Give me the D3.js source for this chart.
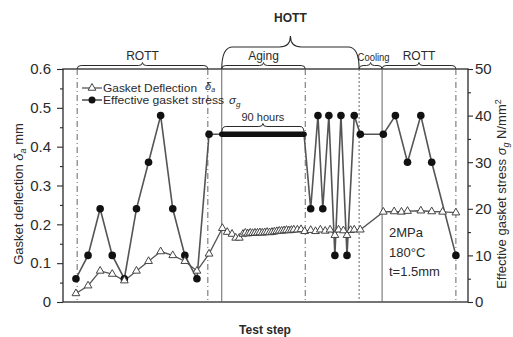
<!DOCTYPE html>
<html><head><meta charset="utf-8">
<script src="https://cdn.jsdelivr.net/npm/d3@7"></script>
<style>body{margin:0;background:#fff}svg{display:block;font-family:"Liberation Sans",Arial,sans-serif}</style>
</head><body><svg id="c" width="513" height="337"></svg>
<script>
// ---- data ----
const stressSteps = [0,1,2,3,4,5,6,7,8,9,10,11];
const stressValues = [5,10,20,10,5,20,30,40,20,10,5,36];
const agingSteps = [12.05,12.3,12.55,12.8,13.05,13.3,13.55,13.8,14.05,14.3,14.55,14.8,15.05,15.3,15.55,15.8,16.05,16.3,16.55,16.8,17.05,17.3,17.55,17.8,18.05,18.3,18.55,18.85];
const agingStress = [36,36,36,36,36,36,36,36,36,36,36,36,36,36,36,36,36,36,36,36,36,36,36,36,36,36,36,36];
const stress2Steps = [19.4,20.0,20.4,20.9,21.4,21.9,22.4,23.0,23.5,25.4,26.4,27.4,28.5,29.4,31.4];
const stress2Values = [20,40,20,40,10,40,10,40,36,36,40,30,40,30,10];
const deflSteps = [0,1,2,3,4,5,6,7,8,9,10,11,
  12.1,12.5,12.9,13.2,13.5,13.8,14.0,14.2,14.4,14.6,14.8,15.0,15.2,15.4,15.6,15.8,16.0,16.2,16.4,16.6,16.8,17.0,17.2,17.4,17.6,17.8,18.0,18.3,18.6,18.9,
  19.4,19.8,20.2,20.6,21.0,21.4,21.7,22.1,22.4,22.7,23.0,23.5,
  25.4,26.3,26.9,27.4,28.5,29.4,30.3,31.4];
const deflValues = [0.022,0.042,0.08,0.072,0.055,0.08,0.105,0.13,0.12,0.105,0.08,0.124,
  0.19,0.18,0.175,0.165,0.165,0.175,0.178,0.176,0.178,0.177,0.178,0.178,0.179,0.178,0.179,0.18,0.179,0.18,0.181,0.182,0.183,0.183,0.184,0.185,0.184,0.185,0.186,0.186,0.187,0.182,
  0.185,0.182,0.186,0.183,0.186,0.172,0.186,0.184,0.172,0.185,0.186,0.186,
  0.232,0.233,0.232,0.234,0.235,0.233,0.232,0.23];
const leftTicks = [0,0.1,0.2,0.3,0.4,0.5,0.6];
const rightTicks = [0,10,20,30,40,50];
const phaseLines = [0.1,10.9,12.05,18.95,23.4,25.3,31.4];
const phaseDash = ["6,3,1,3","6,3,1,3",null,"6,3,1,3","2,2",null,"6,3,1,3"];
const braces = [
  {label:"ROTT", from:0.1, to:10.9, level:"low"},
  {label:"Aging", from:12.05, to:18.95, level:"low"},
  {label:"Cooling", from:23.4, to:25.3, level:"low"},
  {label:"ROTT", from:25.3, to:31.4, level:"low"},
  {label:"HOTT", from:12.05, to:23.4, level:"high"}
];

// ---- scales ----
const svg = d3.select("#c");
const x = d3.scaleLinear().domain([-1.07, 32.4]).range([63, 468]);
const yL = d3.scaleLinear().domain([0, 0.6]).range([302, 69]);
const yR = d3.scaleLinear().domain([0, 50]).range([302, 69]);
const ink = "#2a2a2a", lineC = "#555";

// axes
const gL = svg.append("g").attr("transform","translate(63,0)")
  .call(d3.axisLeft(yL).tickValues(leftTicks).tickSize(6).tickPadding(6).tickFormat(d=>d===0?"0":d3.format(".1f")(d)));
const gLm = svg.append("g").attr("transform","translate(63,0)")
  .call(d3.axisLeft(yL).tickValues([0.05,0.15,0.25,0.35,0.45,0.55]).tickSize(3).tickFormat(""));
const gR = svg.append("g").attr("transform","translate(468,0)")
  .call(d3.axisRight(yR).tickValues(rightTicks).tickSize(5).tickPadding(2));
const gRm = svg.append("g").attr("transform","translate(468,0)")
  .call(d3.axisRight(yR).tickValues([5,15,25,35,45]).tickSize(3).tickFormat(""));
[gL,gLm,gR,gRm].forEach(g=>{
  g.selectAll("path").attr("stroke",ink).attr("stroke-width",1.3);
  g.selectAll("line").attr("stroke",ink).attr("stroke-width",1.1);
  g.selectAll("text").attr("fill",ink).style("font-size","15px");
});
gL.select("path").remove(); gLm.select("path").remove(); gR.select("path").remove(); gRm.select("path").remove();
// frame
svg.append("rect").attr("x",63).attr("y",69).attr("width",405).attr("height",233)
  .attr("fill","none").attr("stroke",ink).attr("stroke-width",1.3);

// phase lines
svg.append("g").selectAll("line").data(phaseLines).join("line")
  .attr("x1",d=>x(d)).attr("x2",d=>x(d)).attr("y1",69).attr("y2",302)
  .attr("stroke","#666").attr("stroke-width",1)
  .attr("stroke-dasharray",(d,i)=>phaseDash[i]);

// braces
function bracePath(x1,x2,yBase,yTop,yTip,r){
  const xm=(x1+x2)/2;
  return `M${x1},${yBase} Q${x1},${yTop} ${x1+r},${yTop} L${xm-r},${yTop} Q${xm},${yTop} ${xm},${yTip} Q${xm},${yTop} ${xm+r},${yTop} L${x2-r},${yTop} Q${x2},${yTop} ${x2},${yBase}`;
}
braces.forEach(b=>{
  const x1=x(b.from), x2=x(b.to), xm=(x1+x2)/2;
  if(b.level==="low"){
    svg.append("path").attr("d",bracePath(x1,x2,69,65.5,62.5,4)).attr("fill","none").attr("stroke",ink).attr("stroke-width",1);
    const t = svg.append("text").attr("x",b.label==="Cooling"?xm+3:xm).attr("y",b.label==="Cooling"?61:60).attr("text-anchor","middle")
      .attr("fill",ink).style("font-size","12px").text(b.label);
    if(b.label==="Cooling") t.style("font-size","11.5px").attr("textLength",32).attr("lengthAdjust","spacingAndGlyphs");
  } else {
    svg.append("path").attr("d",bracePath(x1,x2,69,47,36,11)).attr("fill","none").attr("stroke",ink).attr("stroke-width",1.1);
    svg.append("text").attr("x",xm).attr("y",22).attr("text-anchor","middle")
      .attr("fill",ink).style("font-size","12px").style("font-weight","bold").text(b.label);
  }
});
// 90 hours brace
{
  const x1=x(agingSteps[0]), x2=x(agingSteps[agingSteps.length-1]);
  svg.append("path").attr("d",bracePath(x1,x2,133,126.5,123.5,4)).attr("fill","none").attr("stroke",ink).attr("stroke-width",1);
  svg.append("text").attr("x",(x1+x2)/2).attr("y",121).attr("text-anchor","middle").attr("fill",ink)
    .style("font-size","11px").text("90 hours");
}

// series: stress line
const allStressSteps = stressSteps.concat(agingSteps, stress2Steps);
const allStress = stressValues.concat(agingStress, stress2Values);
const stressPts = allStressSteps.map((s,i)=>[x(s), yR(allStress[i])]);
const line = d3.line();
svg.append("path").attr("d",line(stressPts)).attr("fill","none").attr("stroke",lineC).attr("stroke-width",1.6);
// deflection line
const deflPts = deflSteps.map((s,i)=>[x(s), yL(deflValues[i])]);
svg.append("path").attr("d",line(deflPts)).attr("fill","none").attr("stroke",lineC).attr("stroke-width",1.3);
// aging thick bar
svg.append("path").attr("d",line(agingSteps.map((s,i)=>[x(s),yR(agingStress[i])])))
  .attr("fill","none").attr("stroke","#111").attr("stroke-width",5.5).attr("stroke-linecap","round");
// stress markers
svg.append("g").selectAll("circle").data(stressSteps.map((s,i)=>[s,stressValues[i]]).concat(stress2Steps.map((s,i)=>[s,stress2Values[i]])))
  .join("circle").attr("cx",d=>x(d[0])).attr("cy",d=>yR(d[1])).attr("r",3.8).attr("fill","#111");
// deflection markers
const tri = d3.symbol().type(d3.symbolTriangle).size(26);
svg.append("g").selectAll("path").data(deflSteps.map((s,i)=>[s,deflValues[i]]))
  .join("path").attr("d",tri).attr("transform",d=>`translate(${x(d[0])},${yL(d[1])})`)
  .attr("fill","#fff").attr("stroke","#444").attr("stroke-width",1);

// legend
const lg = svg.append("g").attr("fill",ink).style("font-size","11.5px");
lg.append("line").attr("x1",82).attr("x2",102).attr("y1",88).attr("y2",88).attr("stroke",lineC).attr("stroke-width",1.3);
lg.append("path").attr("d",tri).attr("transform","translate(92,88)").attr("fill","#fff").attr("stroke","#444");
lg.append("text").attr("x",103).attr("y",92).attr("textLength",94).attr("lengthAdjust","spacingAndGlyphs").text("Gasket Deflection");
lg.append("text").attr("x",205).attr("y",90).style("font-style","italic").style("font-size","11px").html('δ<tspan dy="2" font-size="7">a</tspan>');
lg.append("line").attr("x1",82).attr("x2",102).attr("y1",100).attr("y2",100).attr("stroke",lineC).attr("stroke-width",1.6);
lg.append("circle").attr("cx",92).attr("cy",100).attr("r",3.5).attr("fill","#111");
lg.append("text").attr("x",103).attr("y",104).attr("textLength",121).attr("lengthAdjust","spacingAndGlyphs").text("Effective gasket stress");
lg.append("text").attr("x",229).attr("y",104).style("font-style","italic").html('σ<tspan dy="3" font-size="8">g</tspan>');

// condition notes
const notes = ["2MPa","180°C","t=1.5mm"];
svg.append("g").selectAll("text").data(notes).join("text")
  .attr("x",389).attr("y",(d,i)=>237+i*19.5).attr("fill",ink).style("font-size","13px").text(d=>d);

// axis titles
svg.append("text").attr("x",265).attr("y",334).attr("text-anchor","middle").attr("fill",ink)
  .style("font-size","12px").style("font-weight","bold").text("Test step");
svg.append("text").attr("transform","translate(23,194) rotate(-90)").attr("text-anchor","middle").attr("fill",ink)
  .style("font-size","13px").html('Gasket deflection  <tspan font-style="italic">δ</tspan><tspan font-size="9" dy="3" font-style="italic">a</tspan><tspan dy="-3">  mm</tspan>');
svg.append("text").attr("transform","translate(506,194) rotate(-90)").attr("text-anchor","middle").attr("fill",ink)
  .style("font-size","13px").html('Effective gasket stress  <tspan font-style="italic">σ</tspan><tspan font-size="9" dy="3" font-style="italic">g</tspan><tspan dy="-3">  N/mm</tspan><tspan font-size="9" dy="-5">2</tspan>');
</script></body></html>
